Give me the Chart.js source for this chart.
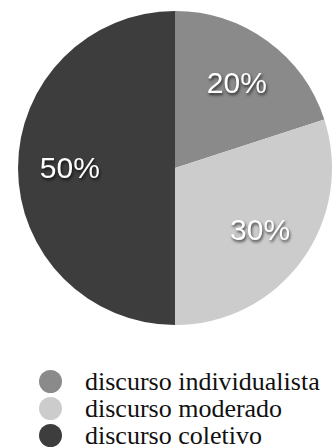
<!DOCTYPE html>
<html>
<head>
<meta charset="utf-8">
<script src="https://cdn.jsdelivr.net/npm/chart.js@4"></script>
<style>
  body { margin: 0; background: #fff; width: 332px; height: 448px; overflow: hidden; position: relative; }
  #wrap { position: absolute; left: 0; top: 0; width: 332px; height: 340px; }
  #legend { position: absolute; left: 39px; top: 368px; margin: 0; padding: 0; list-style: none;
    font-family: "Liberation Serif", "Times New Roman", serif; font-size: 26px; color: #111; }
  #legend li { display: flex; align-items: center; height: 27px; white-space: nowrap; }
  #legend .dot { width: 23px; height: 23px; border-radius: 50%; margin-right: 23px; flex: none; }
</style>
</head>
<body>
<div id="wrap"><canvas id="chart"></canvas></div>
<ul id="legend"></ul>
<script>
// Discurso pie chart

const labels = ["discurso individualista", "discurso moderado", "discurso coletivo"];
const values = [20, 30, 50];
const colors = ["#8a8a8a", "#cccccc", "#3d3d3d"];

// percent labels inside slices, white with a soft shadow
const sliceLabels = {
  id: "sliceLabels",
  afterDatasetsDraw(chart) {
    const ctx = chart.ctx;
    const meta = chart.getDatasetMeta(0);
    const total = values.reduce(function(a, b) { return a + b; }, 0);
    ctx.save();
    ctx.font = "30px 'Liberation Sans', Arial, sans-serif";
    ctx.textAlign = "center";
    ctx.textBaseline = "middle";
    ctx.fillStyle = "#ffffff";
    ctx.shadowColor = "rgba(0,0,0,0.7)";
    ctx.shadowOffsetX = 1;
    ctx.shadowOffsetY = 2;
    ctx.shadowBlur = 3;
    meta.data.forEach(function(arc, i) {
      const p = arc.getProps(["x", "y", "startAngle", "endAngle", "outerRadius"], true);
      const mid = (p.startAngle + p.endAngle) / 2;
      const r = p.outerRadius * 0.67;
      const pct = Math.round(values[i] / total * 100) + "%";
      ctx.fillText(pct, p.x + Math.cos(mid) * r, p.y + Math.sin(mid) * r + 2);
    });
    ctx.restore();
  },
};

function buildLegend() {
  const ul = document.getElementById("legend");
  labels.forEach(function(name, i) {
    const li = document.createElement("li");
    const dot = document.createElement("span");
    dot.className = "dot";
    dot.style.background = colors[i];
    li.appendChild(dot);
    li.appendChild(document.createTextNode(name));
    ul.appendChild(li);
  });
}

new Chart(document.getElementById("chart").getContext("2d"), {
  type: "pie",
  data: {
    labels: labels,
    datasets: [{
      data: values,
      backgroundColor: colors,
      borderWidth: 0,
    }],
  },
  options: {
    responsive: true,
    maintainAspectRatio: false,
    animation: false,
    layout: { padding: { left: 18, right: 0, top: 11, bottom: 15 } },
    plugins: {
      legend: { display: false },
      tooltip: { enabled: false },
    },
  },
  plugins: [sliceLabels],
});

buildLegend();
</script>
</body>
</html>
